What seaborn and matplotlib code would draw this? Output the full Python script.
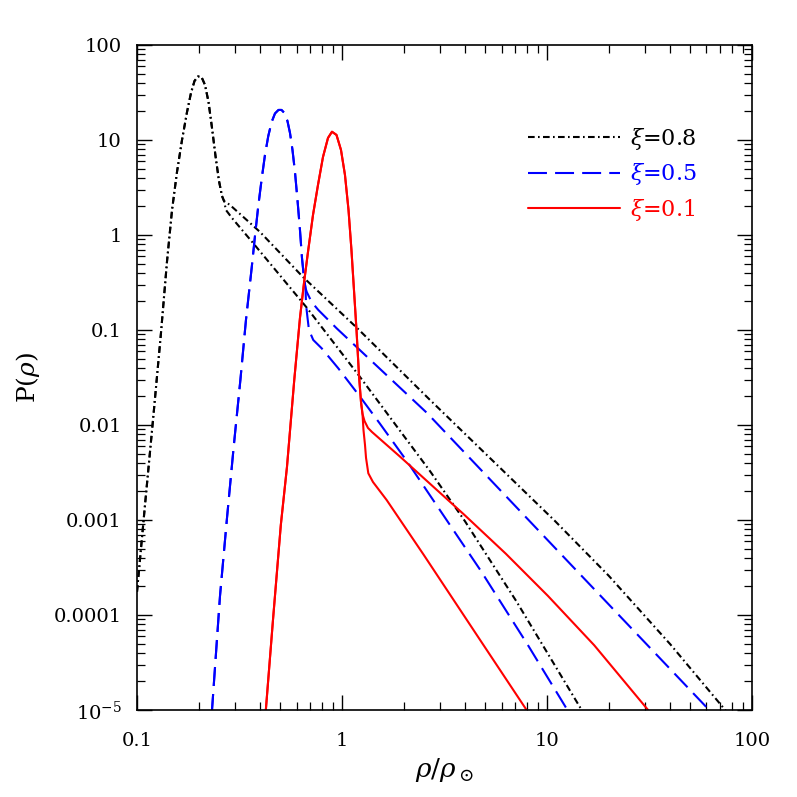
import numpy as np
import pandas as pd
import matplotlib
matplotlib.use("Agg")
import matplotlib.pyplot as plt
import seaborn as sns
from matplotlib.lines import Line2D
from matplotlib.ticker import LogLocator, NullFormatter

# ---------------- data ----------------
black_rise_x = [0.100, 0.1094, 0.1197, 0.1309, 0.140, 0.1482, 0.1567, 0.1658, 0.1754, 0.1834,
                0.1908, 0.1984, 0.2064, 0.2147, 0.2233, 0.2322, 0.2415, 0.2512, 0.2598, 0.2657]
black_rise_y = [1.75e-4, 1.44e-3, 0.0113, 0.0929, 0.52, 1.83, 4.6, 10.0, 19.7, 31.3,
                41.8, 46.6, 46.0, 37.9, 25.1, 13.4, 6.79, 3.70, 2.57, 2.28]
black_upper_x = [0.284, 0.398, 0.645, 1.184, 2.69, 10.94, 20.0, 40.0, 75.5]
black_upper_y = [2.07, 1.076, 0.361, 0.105, 0.0183, 9.75e-4, 2.59e-4, 4.9e-5, 9.5e-6]
black_lower_x = [0.2716, 0.2905, 0.368, 0.675, 1.224, 2.69, 3.98, 7.08, 14.8]
black_lower_y = [1.83, 1.51, 0.824, 0.1705, 0.032, 3.26e-3, 9.7e-4, 1.4e-4, 9.9e-6]

blue_rise_x = [0.2317, 0.254, 0.2748, 0.2962, 0.3194, 0.340, 0.3626, 0.3763, 0.3905, 0.4057,
               0.4210, 0.4369, 0.4540, 0.4711, 0.490, 0.507, 0.5241, 0.542, 0.5576, 0.5734,
               0.5897, 0.6065, 0.6237, 0.638, 0.6526, 0.6637]
blue_rise_y = [9.3e-6, 1.58e-4, 1.05e-3, 5.86e-3, 0.0298, 0.127, 0.45, 0.976, 2.02, 3.89,
               6.95, 11.0, 15.5, 19.0, 20.7, 20.7, 19.2, 15.8, 11.85, 7.85,
               4.6, 2.34, 1.13, 0.573, 0.352, 0.277]
blue_upper_x = [0.673, 0.711, 0.766, 0.942, 2.598, 13.7, 63.8]
blue_upper_y = [0.251, 0.197, 0.1625, 0.104, 0.01337, 3.05e-4, 9.3e-6]
blue_lower_x = [0.668, 0.679, 0.690, 0.724, 0.796, 0.959, 1.224, 1.532, 2.075, 4.76, 8.08, 12.8]
blue_lower_y = [0.183, 0.134, 0.1, 0.0785, 0.0641, 0.0395, 0.01986, 0.0103, 4.15e-3, 2.91e-4, 4.8e-5, 9.4e-6]

red_rise_x = [0.424, 0.4606, 0.503, 0.539, 0.585, 0.6237, 0.6526, 0.6825, 0.7221, 0.7637,
              0.8078, 0.8545, 0.8936, 0.940, 0.9888, 1.034, 1.076, 1.112, 1.144, 1.177,
              1.210, 1.238, 1.259]
red_rise_y = [9.3e-6, 8.85e-5, 8.85e-4, 3.61e-3, 0.0298, 0.1337, 0.3126, 0.662, 1.625, 3.36,
              6.62, 10.5, 12.2, 11.3, 7.85, 4.28, 1.83, 0.695, 0.264, 0.1,
              0.0336, 0.01746, 0.01306]
red_upper_x = [1.288, 1.339, 1.40, 1.919, 3.94, 6.3, 10.1, 17.0, 32.0]
red_upper_y = [0.0110, 9.3e-3, 8.44e-3, 4.64e-3, 1.14e-3, 4.41e-4, 1.59e-4, 4.8e-5, 9.3e-6]
red_lower_x = [1.273, 1.295, 1.31, 1.344, 1.416, 1.652, 2.503, 4.76, 8.13]
red_lower_y = [8.86e-3, 6.15e-3, 4.5e-3, 3.1e-3, 2.51e-3, 1.62e-3, 4.3e-4, 5.3e-5, 9.3e-6]

legend_labels = [r"$\xi$=0.8", r"$\xi$=0.5", r"$\xi$=0.1"]
x_ticks = [0.1, 1, 10, 100]
x_ticklabels = ["0.1", "1", "10", "100"]
y_ticks = [1e-5, 1e-4, 1e-3, 1e-2, 1e-1, 1, 10, 100]
y_ticklabels = [r"$10^{-5}$", "0.0001", "0.001", "0.01", "0.1", "1", "10", "100"]

# ---------------- styling ----------------
sns.set_theme(style="ticks")
plt.rcParams["font.family"] = ["DejaVu Serif"]
plt.rcParams["mathtext.fontset"] = "dejavuserif"

DASHDOT = (3.2, 1.6, 0.8, 1.6)
DASHED = (9.1, 3.9)
colors = ["black", "blue", "red"]
styles = [DASHDOT, DASHED, None]

fig = plt.figure(figsize=(7.97, 7.97), dpi=100)
ax = fig.add_axes([0.1719, 0.1092, 0.7716, 0.8344])
ax.set_xscale("log")
ax.set_yscale("log")

curves = [
    (black_rise_x + black_upper_x, black_rise_y + black_upper_y, 0),
    (black_rise_x + black_lower_x, black_rise_y + black_lower_y, 0),
    (blue_rise_x + blue_upper_x, blue_rise_y + blue_upper_y, 1),
    (blue_rise_x + blue_lower_x, blue_rise_y + blue_lower_y, 1),
    (red_rise_x + red_upper_x, red_rise_y + red_upper_y, 2),
    (red_rise_x + red_lower_x, red_rise_y + red_lower_y, 2),
]
for xs, ys, k in curves:
    df = pd.DataFrame({"x": xs, "y": ys})
    sns.lineplot(data=df, x="x", y="y", ax=ax, color=colors[k], lw=1.5,
                 sort=False, estimator=None)
    line = ax.lines[-1]
    line.set_solid_joinstyle("round")
    line.set_dash_joinstyle("round")
    if styles[k] is not None:
        line.set_dashes(styles[k])

ax.set_xlim(0.1, 100)
ax.set_ylim(1e-5, 100)
ax.set_xticks(x_ticks)
ax.set_xticklabels(x_ticklabels)
ax.set_yticks(y_ticks)
ax.set_yticklabels(y_ticklabels)
ax.xaxis.set_minor_locator(LogLocator(base=10, subs=np.arange(2, 10), numticks=100))
ax.yaxis.set_minor_locator(LogLocator(base=10, subs=np.arange(2, 10), numticks=100))
ax.xaxis.set_minor_formatter(NullFormatter())
ax.yaxis.set_minor_formatter(NullFormatter())

ax.tick_params(which="both", direction="in", top=True, right=True, colors="black")
ax.tick_params(which="major", length=11, width=1.0, labelsize=14)
ax.tick_params(which="minor", length=6, width=0.9)
ax.tick_params(axis="x", which="major", pad=16)
ax.tick_params(axis="y", which="major", pad=11)
for sp in ax.spines.values():
    sp.set_linewidth(1.2)
    sp.set_color("black")
    sp.set_visible(True)

ax.set_xlabel(r"$\rho/\rho_\odot$", fontsize=19, labelpad=4, color="black")
ax.set_ylabel(r"P($\rho$)", fontsize=18, labelpad=8, color="black")

handles = [Line2D([], [], color=colors[i], lw=1.5) for i in range(3)]
for h, s in zip(handles, styles):
    if s is not None:
        h.set_dashes(s)
leg = ax.legend(handles, legend_labels, loc="upper left",
                bbox_to_anchor=(0.636, 0.878), frameon=False, fontsize=16,
                handlelength=4.15, handletextpad=0.45, labelspacing=0.42,
                borderpad=0, borderaxespad=0)
for t, c in zip(leg.get_texts(), colors):
    t.set_color(c)

fig.savefig("out.png", dpi=100)
